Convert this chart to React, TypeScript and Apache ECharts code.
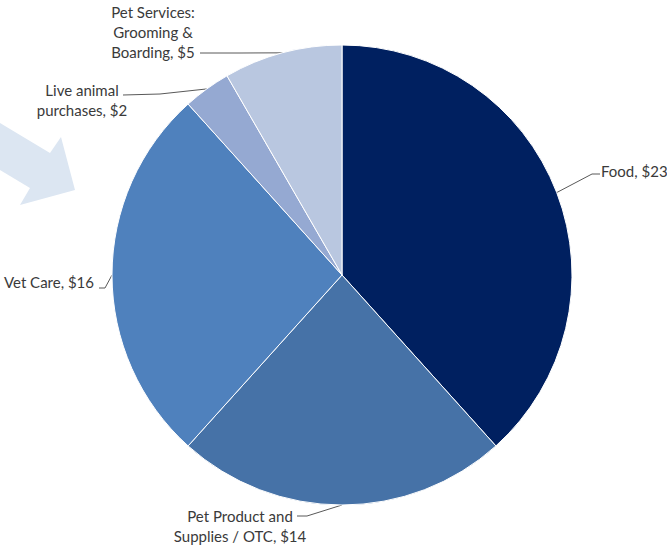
import React, { useEffect, useRef } from "react";
import * as echarts from "echarts";

const categories = [
  "Food",
  "Pet Product and\nSupplies / OTC",
  "Vet Care",
  "Live animal\npurchases",
  "Pet Services:\nGrooming &\nBoarding",
];
const values = [23, 14, 16, 2, 5];
const colors = ["#002060", "#4672a7", "#4f81bd", "#95a9d2", "#b9c7e0"];

// label anchor settings per slice (layout only)
const labelPos = [
  { x: 601, y: 171, align: "left", bend: [[592, 174], [600, 174]] },
  { x: 240, y: 526, align: "center", bend: [[307, 516], [297, 516]] },
  { x: 4, y: 282, align: "left", bend: [[105, 288], [99, 288]] },
  { x: 82, y: 100, align: "center", bend: [[160, 94], [123, 95]] },
  { x: 153, y: 32, align: "center", bend: [[240, 53], [200, 53]] },
];

export default function App() {
  const ref = useRef<HTMLDivElement>(null);
  useEffect(() => {
    const chart = echarts.init(ref.current!, null, { renderer: "svg" });
    chart.setOption({
      animation: false,
      graphic: [
        {
          type: "polygon",
          shape: {
            points: [
              [0, 123],
              [50, 153],
              [61, 137],
              [75, 190],
              [20, 205],
              [30, 188],
              [0, 170],
            ],
          },
          style: { fill: "#dce6f2" },
          z: -1,
        },
      ],
      series: [
        {
          type: "pie",
          center: [342, 275],
          radius: 230,
          startAngle: 90,
          clockwise: true,
          data: categories.map((c, i) => ({
            name: c,
            value: values[i],
            itemStyle: { color: colors[i] },
          })),
          itemStyle: { borderColor: "#ffffff", borderWidth: 1 },
          label: {
            show: true,
            formatter: (p: any) => `${p.name}, $${p.value}`,
            fontFamily: "Lato, 'Open Sans', sans-serif",
            fontSize: 15,
            lineHeight: 20,
            color: "#3a3a3a",
            overflow: "none",
          },
          labelLine: {
            show: true,
            length: 10,
            length2: 10,
            lineStyle: { color: "#595959", width: 1 },
          },
          labelLayout: (params: any) => {
            const p = labelPos[params.dataIndex];
            const pts = params.labelLinePoints;
            const res: any = {
              x: p.x,
              y: p.y,
              align: p.align,
              verticalAlign: "middle",
            };
            if (pts && pts.length) {
              res.labelLinePoints = [pts[0], p.bend[0], p.bend[1]];
            }
            return res;
          },
          emphasis: { disabled: true },
        },
      ],
    });
    return () => chart.dispose();
  }, []);
  return (
    <div
      ref={ref}
      style={{ position: "absolute", left: 0, top: 0, width: 667, height: 546 }}
    />
  );
}
